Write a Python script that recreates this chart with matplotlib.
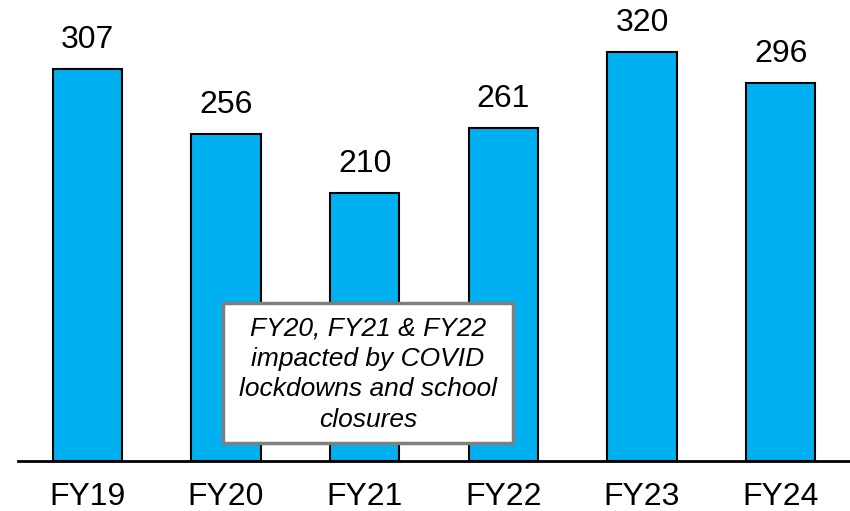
import matplotlib.pyplot as plt
from matplotlib.patches import Rectangle

plt.rcParams['font.family'] = ['Liberation Sans', 'DejaVu Sans']

years = ['FY19', 'FY20', 'FY21', 'FY22', 'FY23', 'FY24']
values = [307, 256, 210, 261, 320, 296]
note = 'FY20, FY21 & FY22\nimpacted by COVID\nlockdowns and school\nclosures'

W, H = 850, 511
fig = plt.figure(figsize=(8.5, 5.11), dpi=100)
ax = fig.add_axes([18 / W, (H - 461) / H, 832 / W, 461 / H])

x = range(len(years))
bars = ax.bar(x, values, width=0.5, color='#00B0F0', edgecolor='black', linewidth=1.5, zorder=2)

for b, v in zip(bars, values):
    ax.annotate(str(v), (b.get_x() + b.get_width() / 2, b.get_height()),
                xytext=(0, 10), textcoords='offset points',
                ha='center', va='bottom', fontsize=23)

ax.set_xlim(-0.5, 5.5)
ax.set_ylim(0, 461 / 1.277)
ax.set_xticks(list(x))
ax.set_xticklabels(years, fontsize=23)
ax.tick_params(axis='x', length=0, pad=15)
ax.set_yticks([])
for s in ['top', 'right', 'left']:
    ax.spines[s].set_visible(False)
ax.spines['bottom'].set_linewidth(2)
ax.spines['bottom'].set_zorder(3)

# note box
box = Rectangle((223 / W, (H - 443) / H), 290 / W, 140 / H, transform=fig.transFigure,
                facecolor='white', edgecolor='#7F7F7F', linewidth=2.5, zorder=5)
fig.patches.append(box)
fig.text(368 / W, (H - 374) / H, note, ha='center', va='center', fontsize=19,
         style='italic', linespacing=1.35, zorder=6)

fig.savefig('out.png', dpi=100)
